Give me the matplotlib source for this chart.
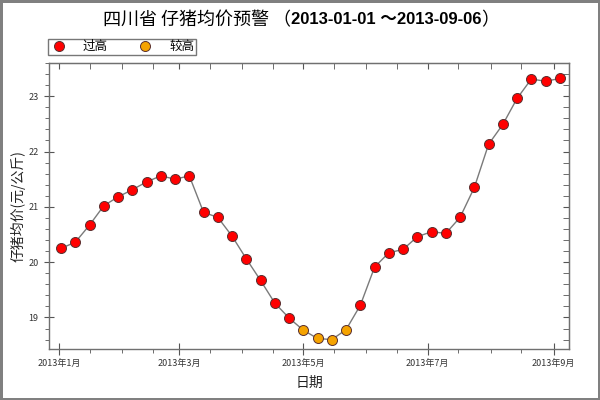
import matplotlib
matplotlib.use("Agg")
import matplotlib.pyplot as plt
import matplotlib.dates as mdates
from matplotlib.ticker import MultipleLocator, FuncFormatter
import pandas as pd
from datetime import datetime

plt.rcParams['font.family'] = ['Noto Sans CJK SC', 'DejaVu Sans']

# weekly price (元/公斤), Sichuan piglets
dates = pd.date_range('2013-01-02', periods=36, freq='7D')
prices = [20.25, 20.36, 20.67, 21.02, 21.18, 21.31, 21.45, 21.56, 21.50, 21.56,
          20.90, 20.81, 20.47, 20.06, 19.67, 19.26, 18.99, 18.77, 18.62, 18.60,
          18.78, 19.22, 19.91, 20.17, 20.23, 20.46, 20.55, 20.52, 20.81, 21.35,
          22.13, 22.49, 22.96, 23.31, 23.27, 23.32]
levels = ['过高'] * 17 + ['较高'] * 4 + ['过高'] * 15
level_colors = {'过高': '#ff0000', '较高': '#f5a300'}

fig = plt.figure(figsize=(6, 4), dpi=100)
fig.patch.set_facecolor('white')
fig.patch.set_edgecolor('#808080')
fig.patch.set_linewidth(2.5)
ax = fig.add_axes([49/600, 1-349/400, 520/600, 286/400])

ax.plot(dates, prices, color='#7a7a7a', lw=1, zorder=2)
for name in ['过高', '较高']:
    xs = [d for d, l in zip(dates, levels) if l == name]
    ys = [p for p, l in zip(prices, levels) if l == name]
    ax.plot(xs, ys, 'o', ms=7.2, mfc=level_colors[name], mec='#5a3030', mew=0.7,
            label=name, zorder=3)

ax.set_xlim(datetime(2012, 12, 27, 2), datetime(2013, 9, 8, 12))
ax.set_ylim(18.43, 23.6)

ax.xaxis.set_major_locator(mdates.MonthLocator(bymonth=[1, 3, 5, 7, 9]))
ax.xaxis.set_minor_locator(mdates.DayLocator(bymonthday=[1, 16]))
ax.xaxis.set_major_formatter(FuncFormatter(
    lambda x, pos: f"{mdates.num2date(x).year}年{mdates.num2date(x).month}月"))
ax.yaxis.set_major_locator(MultipleLocator(1))
ax.yaxis.set_minor_locator(MultipleLocator(0.2))

for s in ax.spines.values():
    s.set_color('#707070')
    s.set_linewidth(1)

ax.tick_params(axis='both', which='both', colors='#555555', labelcolor='#333333')
ax.tick_params(axis='x', which='major', direction='inout', length=8, labelsize=6.5, pad=3)
ax.tick_params(axis='x', which='minor', direction='out', length=3)
ax.tick_params(axis='y', which='major', direction='inout', length=7, labelsize=6.5, pad=4)
ax.tick_params(axis='y', which='minor', direction='out', length=3)

# inward ticks on the top and right spines
top = ax.secondary_xaxis('top')
top.xaxis.set_major_locator(mdates.MonthLocator(bymonth=[1, 3, 5, 7, 9]))
top.xaxis.set_minor_locator(mdates.DayLocator(bymonthday=[1, 16]))
top.tick_params(which='both', direction='in', length=4, colors='#555555', labeltop=False)
top.spines['top'].set_color('#707070')
right = ax.secondary_yaxis('right')
right.yaxis.set_major_locator(MultipleLocator(1))
right.yaxis.set_minor_locator(MultipleLocator(0.2))
right.tick_params(which='both', direction='in', length=4, colors='#555555', labelright=False)
right.spines['right'].set_color('#707070')

ax.set_xlabel('日期', fontsize=10, color='#222222', labelpad=6)
ax.set_ylabel('仔猪均价(元/公斤)', fontsize=10, color='#222222', labelpad=2)

leg = fig.legend(loc='upper left', bbox_to_anchor=(48/600, 1-39/400), ncol=2,
                 fontsize=9, frameon=True, fancybox=False, borderpad=0.1,
                 handletextpad=1.2, columnspacing=2.2, handlelength=1.5,
                 borderaxespad=0)
leg.get_frame().set_edgecolor('#555555')
leg.get_frame().set_linewidth(1)

# title: normal Chinese part + bold date range
ty = 1 - 20/400
t1 = fig.text(103/600, ty, '四川省 仔猪均价预警 （', fontsize=13, ha='left', va='center')
fig.canvas.draw()
x1 = t1.get_window_extent().x1 / fig.bbox.width
t2 = fig.text(x1, ty, '2013-01-01 ～2013-09-06', fontsize=12, weight='bold',
              family=['Liberation Sans', 'Noto Sans CJK SC'], ha='left', va='center')
fig.canvas.draw()
x2 = t2.get_window_extent().x1 / fig.bbox.width
fig.text(x2, ty, '）', fontsize=13, ha='left', va='center')

fig.savefig('out.png', dpi=100)
